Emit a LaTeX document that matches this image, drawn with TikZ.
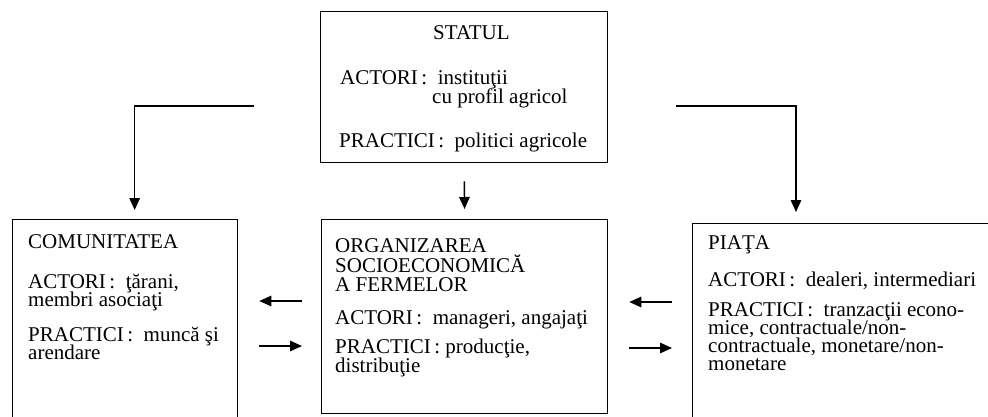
\documentclass[tikz,border=0pt]{standalone}
\usepackage{fontspec}
\setmainfont{Liberation Serif}
\usetikzlibrary{arrows.meta}
\begin{document}
\begin{tikzpicture}[x=1pt,y=-1pt,
  box/.style={draw, line width=1.3pt, rectangle, inner sep=0pt, anchor=north west},
  txt/.style={anchor=base west, inner sep=0pt, text height=14pt, text depth=3.5pt, font=\fontsize{21}{21}\selectfont},
  arr/.style={line width=1.4pt, -{Triangle[length=12pt,width=10.5pt]}}]
\useasboundingbox (0,0) rectangle (988,416);
\clip (0,0) rectangle (988,416);
% boxes
\node[box, minimum width=287pt, minimum height=151pt] (stat) at (320,11) {};
\node[box, minimum width=225pt, minimum height=240pt] (comm) at (12,219) {};
\node[box, minimum width=286pt, minimum height=194pt] (org) at (321,219) {};
\node[box, minimum width=330pt, minimum height=240pt] (piata) at (692,223) {};
% STATUL
\node[txt] (s1) at (433,39) {STATUL};
\node[txt] (s2) at (340,84) {ACTORI\,:\ \ instituţii};
\node[txt] (s3) at (432,103.5) {cu profil agricol};
\node[txt] (s4) at (339,147) {PRACTICI\,:\ \ politici agricole};
% COMUNITATEA
\node[txt] (c1) at (28,248) {COMUNITATEA};
\node[txt] (c2) at (28,288) {ACTORI\,:\ \ ţărani,};
\node[txt] (c3) at (28,306) {membri asociaţi};
\node[txt] (c4) at (28,341) {PRACTICI\,:\ \ muncă şi};
\node[txt] (c5) at (28,359) {arendare};
% ORGANIZAREA
\node[txt] (o1) at (335,252.5) {ORGANIZAREA};
\node[txt] (o2) at (335,272) {SOCIOECONOMICĂ};
\node[txt] (o3) at (335,291) {A FERMELOR};
\node[txt] (o4) at (335,324) {ACTORI\,:\ \ manageri, angajaţi};
\node[txt] (o5) at (335,353) {PRACTICI\,: producţie,};
\node[txt] (o6) at (335,372) {distribuţie};
% PIATA
\node[txt] (p1) at (708,249) {PIAŢA};
\node[txt] (p2) at (708,286) {ACTORI\,:\ \ dealeri, intermediari};
\node[txt] (p3) at (708,316) {PRACTICI\,:\ \ tranzacţii econo-};
\node[txt] (p4) at (708,334) {mice, contractuale/non-};
\node[txt] (p5) at (708,352) {contractuale, monetare/non-};
\node[txt] (p6) at (708,370) {monetare};
% connectors
\coordinate (lfree) at (254,106);
\coordinate (rfree) at (676,106);
\draw[arr, shorten >=9pt] (lfree) -| ([xshift=9.5pt]comm.north);
\draw[arr, shorten >=11pt] (rfree) -| ([xshift=104pt]piata.north west);
\draw[arr, shorten <=18pt, shorten >=10pt] (stat.south) -- (org.north);
\draw[arr, shorten <=19pt, shorten >=21pt] (org.west |- 0,301) -- (comm.east |- 0,301);
\draw[arr, shorten <=21pt, shorten >=19pt] (comm.east |- 0,346) -- (org.west |- 0,346);
\draw[arr, shorten <=20pt, shorten >=21pt] (piata.west |- 0,302) -- (org.east |- 0,302);
\draw[arr, shorten <=21pt, shorten >=20pt] (org.east |- 0,348) -- (piata.west |- 0,348);
\end{tikzpicture}
\end{document}
